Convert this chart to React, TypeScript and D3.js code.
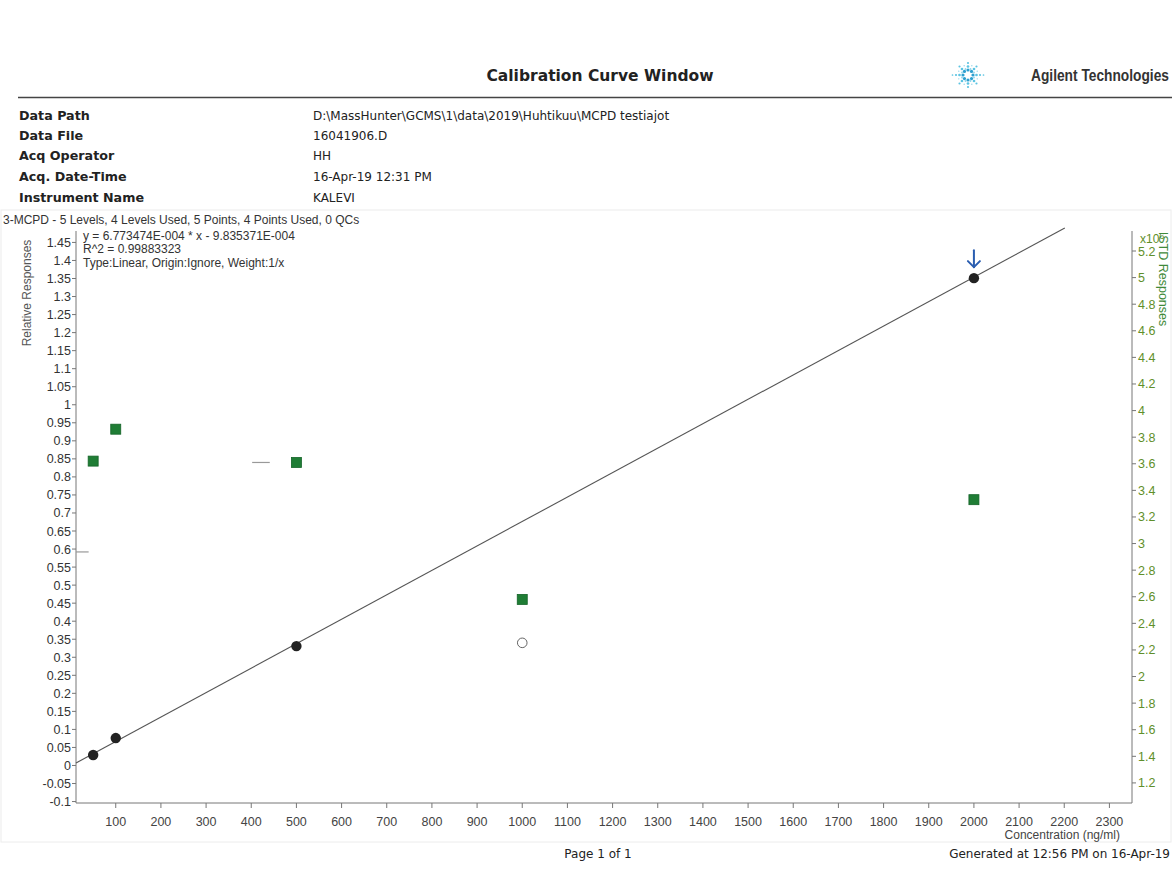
import React from "react";
import * as d3 from "d3";

// Calibration levels (ng/ml) and measured responses
const concentrations = [50, 100, 500, 1000, 2000];
const relativeResponses = [0.029, 0.076, 0.331, 0.34, 1.351];
const levelUsed = [true, true, true, false, true];
const istdResponses = [3.62, 3.86, 3.61, 2.58, 3.33];
const selectedLevel = 2000;

// Linear fit reported by the software
const slope = 6.773474e-4;
const intercept = -9.835371e-4;

// Faint reference dashes left on the plot area (x from, x to, relative response)
const faintDashes = [
  { x1: 402, x2: 441, y: 0.84 },
  { x1: 12, x2: 40, y: 0.592 },
];

// Tick values
const xTicks = d3.range(1, 24).map((i) => i * 100);
const yLeftTicks = d3.range(-2, 30).map((i) => +(i * 0.05).toFixed(2));
const yRightTicks = d3.range(6, 27).map((i) => +(i * 0.2).toFixed(1));

// Report header
const headerLabels = ["Data Path", "Data File", "Acq Operator", "Acq. Date-Time", "Instrument Name"];
const headerValues = [
  "D:\\MassHunter\\GCMS\\1\\data\\2019\\Huhtikuu\\MCPD testiajot",
  "16041906.D",
  "HH",
  "16-Apr-19 12:31 PM",
  "KALEVI",
];
const compoundSummary = "3-MCPD - 5 Levels, 4 Levels Used, 5 Points, 4 Points Used, 0 QCs";
const fitLines = [
  "y = 6.773474E-004 * x  - 9.835371E-004",
  "R^2 = 0.99883323",
  "Type:Linear, Origin:Ignore, Weight:1/x",
];

const W = 1174;
const H = 881;
const plot = { left: 76, right: 1132, top: 228, bottom: 803 };

const x = d3.scaleLinear().domain([12, 2350]).range([plot.left, plot.right]);
const yL = d3.scaleLinear().domain([-0.104, 1.49]).range([plot.bottom, plot.top]);
const yR = d3.scaleLinear().domain([1.049, 5.373]).range([plot.bottom, plot.top]);

const fmt = (v: number) => String(v);

function Logo({ cx, cy }: { cx: number; cy: number }) {
  const dots: { x: number; y: number; r: number; c: string }[] = [];
  for (let k = 0; k < 8; k++) {
    const a = (k * Math.PI) / 4;
    const horiz = k % 4 === 0;
    const dists = horiz ? [5, 8.5, 12, 15.5] : [5, 8.5, 12];
    dists.forEach((d, j) => {
      dots.push({
        x: cx + Math.cos(a) * d,
        y: cy + Math.sin(a) * d,
        r: 1.6 - j * 0.25,
        c: j === 0 ? "#2d9fd0" : "#5cc4e2",
      });
    });
  }
  for (let k = 0; k < 8; k++) {
    const a = (k * Math.PI) / 4 + Math.PI / 8;
    [6.5, 10].forEach((d, j) =>
      dots.push({ x: cx + Math.cos(a) * d, y: cy + Math.sin(a) * d, r: 0.9 - j * 0.2, c: "#8fd5ea" })
    );
  }
  return (
    <g>
      {dots.map((d, i) => (
        <circle key={i} cx={d.x} cy={d.y} r={d.r} fill={d.c} />
      ))}
    </g>
  );
}

export default function App() {
  const lineX2 = (yL.domain()[1] - intercept) / slope;
  const lineX1 = x.domain()[0];
  const fitPath = d3.line<number>()
    .x((d) => x(d))
    .y((d) => yL(slope * d + intercept))([lineX1, lineX2]);

  const sel = concentrations.indexOf(selectedLevel);
  const ax = x(concentrations[sel]);
  const ay = yL(relativeResponses[sel]);

  const tickFont = "'Liberation Sans', Arial, sans-serif";
  const reportFont = "'DejaVu Sans', Tahoma, sans-serif";

  return (
    <svg
      width={W}
      height={H}
      viewBox={`0 0 ${W} ${H}`}
      style={{ position: "absolute", left: 0, top: 0, background: "#fff" }}
    >
      <rect x={0} y={0} width={W} height={H} fill="#fff" />

      {/* Title bar */}
      <text x={600} y={81} textAnchor="middle" fontFamily={reportFont} fontWeight="bold" fontSize={15.5} fill="#222">
        Calibration Curve Window
      </text>
      <Logo cx={968} cy={75} />
      <text
        transform="translate(1031,81) scale(0.86,1)"
        fontFamily="'Liberation Sans', sans-serif"
        fontWeight="bold"
        fontSize={16}
        fill="#333"
      >
        Agilent Technologies
      </text>
      <line x1={18} x2={1172} y1={97.5} y2={97.5} stroke="#444" strokeWidth={1.6} />

      {/* Header table */}
      {headerLabels.map((l, i) => {
        const yy = [120, 140, 160, 181, 202][i];
        return (
          <g key={l}>
            <text x={19} y={yy} fontFamily={reportFont} fontWeight="bold" fontSize={12.7} fill="#222">
              {l}
            </text>
            <text x={313} y={yy} fontFamily={reportFont} fontSize={12} fill="#222">
              {headerValues[i]}
            </text>
          </g>
        );
      })}

      {/* Chart frame */}
      <rect x={1} y={210} width={1170} height={632} fill="none" stroke="#ececec" strokeWidth={1} />
      <text x={3} y={224} fontFamily={tickFont} fontSize={12} fill="#333">
        {compoundSummary}
      </text>

      {/* Axes */}
      <line x1={plot.left} x2={plot.left} y1={plot.top + 3} y2={plot.bottom} stroke="#777" />
      <line x1={plot.right} x2={plot.right} y1={plot.top + 3} y2={plot.bottom} stroke="#777" />
      <line x1={plot.left} x2={plot.right} y1={plot.bottom} y2={plot.bottom} stroke="#777" />

      {yLeftTicks.map((t) => (
        <g key={`l${t}`}>
          <line x1={plot.left - 4} x2={plot.left} y1={yL(t)} y2={yL(t)} stroke="#777" />
          <text x={plot.left - 5} y={yL(t) + 4.5} textAnchor="end" fontFamily={tickFont} fontSize={12.5} fill="#333">
            {fmt(t)}
          </text>
        </g>
      ))}
      {yRightTicks.map((t) => (
        <g key={`r${t}`}>
          <line x1={plot.right} x2={plot.right + 4} y1={yR(t)} y2={yR(t)} stroke="#777" />
          <text x={plot.right + 6} y={yR(t) + 4.5} fontFamily={tickFont} fontSize={12.5} fill="#5f8f2a">
            {fmt(t)}
          </text>
        </g>
      ))}
      {xTicks.map((t) => (
        <g key={`x${t}`}>
          <line x1={x(t)} x2={x(t)} y1={plot.bottom} y2={plot.bottom + 5} stroke="#777" />
          <text x={x(t)} y={plot.bottom + 23} textAnchor="middle" fontFamily={tickFont} fontSize={12.5} fill="#444">
            {t}
          </text>
        </g>
      ))}

      {/* Axis titles */}
      <text
        transform={`translate(31,${293}) rotate(-90)`}
        textAnchor="middle"
        fontFamily={tickFont}
        fontSize={12}
        fill="#555"
      >
        Relative Responses
      </text>
      <text x={1140} y={243} fontFamily={tickFont} fontSize={12} fill="#5f8f2a">
        x10
        <tspan dy={-4} fontSize={9}>6</tspan>
      </text>
      <text
        transform={`translate(1159,${279}) rotate(90)`}
        textAnchor="middle"
        fontFamily={tickFont}
        fontSize={12.5}
        fill="#3f8a3a"
      >
        ISTD Responses
      </text>
      <text x={1120} y={839} textAnchor="end" fontFamily={tickFont} fontSize={12} fill="#444">
        Concentration (ng/ml)
      </text>

      {/* Fit statistics */}
      {fitLines.map((t, i) => (
        <text key={t} x={83} y={[240, 253, 267][i]} fontFamily={tickFont} fontSize={12} fill="#333">
          {t}
        </text>
      ))}

      {/* Faint dashes */}
      {faintDashes.map((d, i) => (
        <line key={i} x1={x(d.x1)} x2={x(d.x2)} y1={yL(d.y)} y2={yL(d.y)} stroke="#999" strokeWidth={1.2} />
      ))}

      {/* Calibration fit line */}
      <path d={fitPath ?? ""} fill="none" stroke="#555" strokeWidth={1.1} />

      {/* ISTD responses */}
      {concentrations.map((c, i) => (
        <rect
          key={`s${c}`}
          x={x(c) - 5}
          y={yR(istdResponses[i]) - 5}
          width={10}
          height={10}
          fill="#1f7d35"
          stroke="#146428"
          strokeWidth={0.8}
        />
      ))}

      {/* Relative responses */}
      {concentrations.map((c, i) =>
        levelUsed[i] ? (
          <circle key={`p${c}`} cx={x(c)} cy={yL(relativeResponses[i])} r={5.2} fill="#222" />
        ) : (
          <circle key={`p${c}`} cx={x(c)} cy={yL(relativeResponses[i])} r={4.8} fill="#fff" stroke="#666" strokeWidth={1} />
        )
      )}

      {/* Selected level marker */}
      <g stroke="#2a5db0" strokeWidth={2} fill="none" strokeLinecap="round" strokeLinejoin="round">
        <line x1={ax} x2={ax} y1={ay - 28} y2={ay - 11} />
        <polyline points={`${ax - 6},${ay - 17} ${ax},${ay - 11} ${ax + 6},${ay - 17}`} />
      </g>

      {/* Footer */}
      <text x={598} y={858} textAnchor="middle" fontFamily={reportFont} fontSize={12} fill="#222">
        Page 1 of 1
      </text>
      <text x={1170} y={858} textAnchor="end" fontFamily={reportFont} fontSize={12} fill="#222">
        Generated at 12:56 PM on 16-Apr-19
      </text>
    </svg>
  );
}
